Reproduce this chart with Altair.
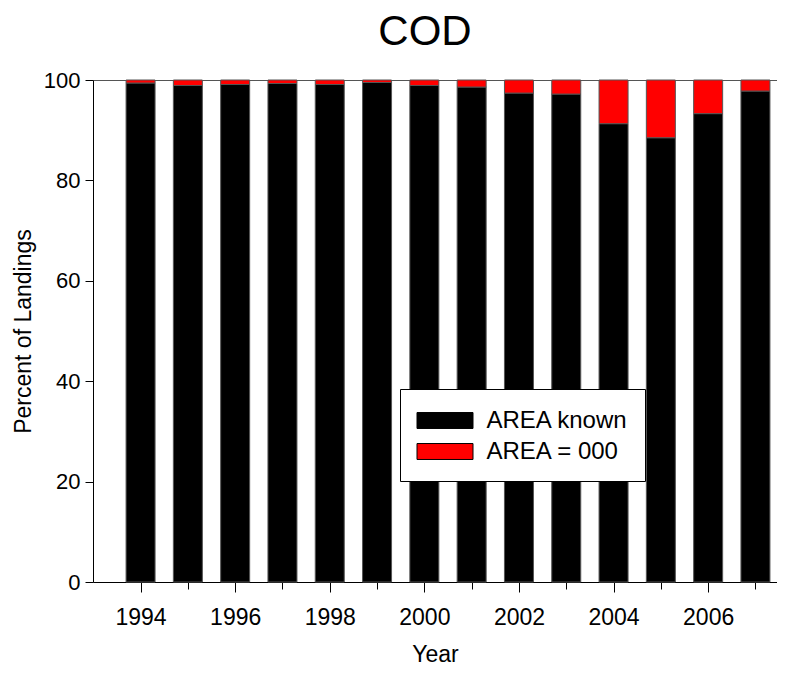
import altair as alt
import pandas as pd

years = list(range(1994, 2008))
known = [99.4, 98.9, 99.1, 99.3, 99.1, 99.5, 98.9, 98.6, 97.4, 97.2, 91.3, 88.5, 93.3, 97.8]
cats = ["AREA known", "AREA = 000"]
colors = ["black", "red"]

rows = []
for y, k in zip(years, known):
    rows.append({"Year": y, "cat": cats[0], "val": k, "ord": 0})
    rows.append({"Year": y, "cat": cats[1], "val": round(100 - k, 2), "ord": 1})
df = pd.DataFrame(rows)

FONT = "Liberation Sans"

bars = alt.Chart(df).mark_bar(width=29, stroke="#555", strokeWidth=1).encode(
    x=alt.X("Year:Q",
            scale=alt.Scale(domain=[1993.1, 2007.35], nice=False, zero=False),
            axis=alt.Axis(values=years, format="d",
                          labelExpr="datum.value % 2 == 0 ? datum.label : ''",
                          tickSize=alt.condition("datum.value % 2 == 0", alt.value(10), alt.value(7)),
                          labelPadding=14, labelFontSize=23,
                          title="Year", titlePadding=14,
                          grid=False)),
    y=alt.Y("val:Q", stack="zero",
            scale=alt.Scale(domain=[0, 100], nice=False),
            axis=alt.Axis(values=[0, 20, 40, 60, 80, 100], tickSize=8, labelPadding=5,
                          labelFontSize=22,
                          title="Percent of Landings", titlePadding=8, grid=False)),
    color=alt.Color("cat:N", scale=alt.Scale(domain=cats, range=colors),
                    sort=cats,
                    legend=alt.Legend(title=None, orient="none", legendX=307, legendY=309,
                                      symbolType="M-2,-0.57H2V0.57H-2Z", symbolSize=784,
                                      symbolStrokeColor="black", symbolStrokeWidth=1,
                                      symbolOpacity=1, symbolOffset=13.5,
                                      labelFont=FONT, labelFontSize=24, labelColor="black",
                                      labelOffset=27, rowPadding=4, padding=17,
                                      strokeColor="black", fillColor="white")),
    order=alt.Order("ord:Q"),
)

top = alt.Chart(pd.DataFrame({"Year": [years[0]]})).mark_point(opacity=0).encode(
    x=alt.X("Year:Q", axis=alt.Axis(orient="top", labels=False, ticks=False, title=None,
                                     domainColor="#555", grid=False)),
)

chart = alt.layer(bars, top).resolve_axis(x="independent").properties(
    width=684, height=502,
    autosize=alt.AutoSizeParams(type="none"),
    padding={"left": 85, "top": 72, "right": 0, "bottom": 86},
    title=alt.TitleParams("COD", font=FONT, fontSize=42, fontWeight="normal",
                          color="black", anchor="middle", frame="group", dx=-10, offset=15),
).configure_axis(
    labelFont=FONT, labelColor="black",
    titleFont=FONT, titleFontSize=23, titleFontWeight="normal", titleColor="black",
    domainColor="black", tickColor="black",
).configure_view(stroke=None)

chart.save("out.html", embed_options={"renderer": "svg", "actions": False})
